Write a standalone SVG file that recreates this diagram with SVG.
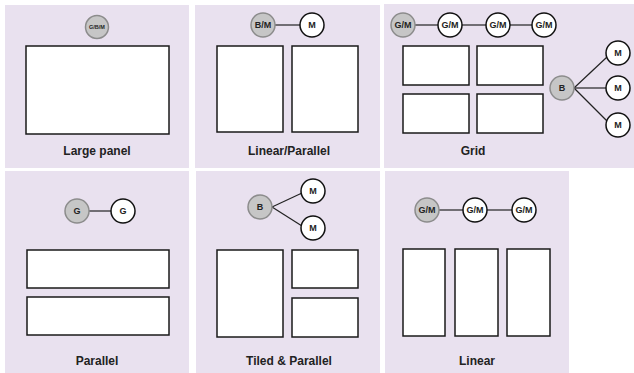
<svg xmlns="http://www.w3.org/2000/svg" width="634" height="373" viewBox="0 0 634 373">
<style>
.bg{fill:#ffffff}
.panel{fill:#e9e1ef}
.box{fill:#ffffff;stroke:#1a1a1a;stroke-width:1.5}
.ng{fill:#c6c6c6;stroke:#8c8c8c;stroke-width:1.5}
.nw{fill:#ffffff;stroke:#111111;stroke-width:1.5}
.nt{font-family:"Liberation Sans",Arial,sans-serif;font-weight:bold;font-size:9px;fill:#222;text-anchor:middle;dominant-baseline:central}
.lbl{font-family:"Liberation Sans",Arial,sans-serif;font-weight:bold;font-size:12px;fill:#222;text-anchor:middle}
.edge{stroke:#222;stroke-width:1.2;fill:none}
</style>
<rect class="bg" x="0" y="0" width="634" height="373"/>
<g id="panels">
<rect class="panel" x="5" y="5" width="184" height="163"/>
<rect class="panel" x="195" y="5" width="185" height="163"/>
<rect class="panel" x="384" y="4" width="250" height="164"/>
<rect class="panel" x="5" y="171" width="184" height="202"/>
<rect class="panel" x="196" y="171" width="184" height="202"/>
<rect class="panel" x="385" y="171" width="184" height="202"/>
</g>
<g id="connectors">
<line class="edge" x1="275" y1="25" x2="300" y2="25"/>
<line class="edge" x1="415" y1="25" x2="438" y2="25"/>
<line class="edge" x1="462" y1="25" x2="486" y2="25"/>
<line class="edge" x1="510" y1="25" x2="532" y2="25"/>
<line class="edge" x1="574" y1="88" x2="607" y2="57"/>
<line class="edge" x1="574" y1="88" x2="606" y2="88"/>
<line class="edge" x1="574" y1="88" x2="607" y2="121"/>
<line class="edge" x1="89" y1="211" x2="111" y2="211"/>
<line class="edge" x1="272" y1="207" x2="302" y2="193"/>
<line class="edge" x1="272" y1="207" x2="302" y2="226"/>
<line class="edge" x1="439" y1="210" x2="463" y2="210"/>
<line class="edge" x1="487" y1="210" x2="512" y2="210"/>
</g>
<g id="large-panel">
<circle class="ng" cx="97" cy="27" r="11.5"/>
<text class="nt" x="97" y="27" style="font-size:5.5px">G/B/M</text>
<rect class="box" x="26" y="46" width="143" height="88"/>
<text class="lbl" x="97" y="155">Large panel</text>
</g>
<g id="linear-parallel">
<circle class="ng" cx="263" cy="25" r="12"/>
<text class="nt" x="263" y="25">B/M</text>
<circle class="nw" cx="312" cy="25" r="12"/>
<text class="nt" x="312" y="25">M</text>
<rect class="box" x="217" y="46" width="66" height="86"/>
<rect class="box" x="292" y="46" width="66" height="86"/>
<text class="lbl" x="289" y="155">Linear/Parallel</text>
</g>
<g id="grid">
<circle class="ng" cx="403" cy="25" r="12"/>
<text class="nt" x="403" y="25">G/M</text>
<circle class="nw" cx="450" cy="25" r="12"/>
<text class="nt" x="450" y="25">G/M</text>
<circle class="nw" cx="498" cy="25" r="12"/>
<text class="nt" x="498" y="25">G/M</text>
<circle class="nw" cx="544" cy="25" r="12"/>
<text class="nt" x="544" y="25">G/M</text>
<rect class="box" x="403" y="46" width="66" height="39"/>
<rect class="box" x="477" y="46" width="66" height="39"/>
<rect class="box" x="403" y="94" width="66" height="39"/>
<rect class="box" x="477" y="94" width="66" height="39"/>
<circle class="ng" cx="562" cy="88" r="12"/>
<text class="nt" x="562" y="88">B</text>
<circle class="nw" cx="618" cy="53" r="12"/>
<text class="nt" x="618" y="53">M</text>
<circle class="nw" cx="618" cy="88" r="12"/>
<text class="nt" x="618" y="88">M</text>
<circle class="nw" cx="618" cy="125" r="12"/>
<text class="nt" x="618" y="125">M</text>
<text class="lbl" x="473" y="155">Grid</text>
</g>
<g id="parallel">
<circle class="ng" cx="77" cy="211" r="12"/>
<text class="nt" x="77" y="211">G</text>
<circle class="nw" cx="123" cy="211" r="12"/>
<text class="nt" x="123" y="211">G</text>
<rect class="box" x="27" y="250" width="142" height="38"/>
<rect class="box" x="27" y="297" width="142" height="38"/>
<text class="lbl" x="97" y="365">Parallel</text>
</g>
<g id="tiled-parallel">
<circle class="ng" cx="260" cy="207" r="12"/>
<text class="nt" x="260" y="207">B</text>
<circle class="nw" cx="313" cy="191" r="12"/>
<text class="nt" x="313" y="191">M</text>
<circle class="nw" cx="313" cy="228" r="12"/>
<text class="nt" x="313" y="228">M</text>
<rect class="box" x="217" y="250" width="66" height="87"/>
<rect class="box" x="292" y="250" width="66" height="38"/>
<rect class="box" x="292" y="298" width="66" height="39"/>
<text class="lbl" x="289" y="365">Tiled &amp; Parallel</text>
</g>
<g id="linear">
<circle class="ng" cx="427" cy="210" r="12"/>
<text class="nt" x="427" y="210">G/M</text>
<circle class="nw" cx="475" cy="210" r="12"/>
<text class="nt" x="475" y="210">G/M</text>
<circle class="nw" cx="524" cy="210" r="12"/>
<text class="nt" x="524" y="210">G/M</text>
<rect class="box" x="403" y="249" width="42" height="87"/>
<rect class="box" x="455" y="249" width="43" height="87"/>
<rect class="box" x="507" y="249" width="43" height="87"/>
<text class="lbl" x="477" y="365">Linear</text>
</g>
</svg>
